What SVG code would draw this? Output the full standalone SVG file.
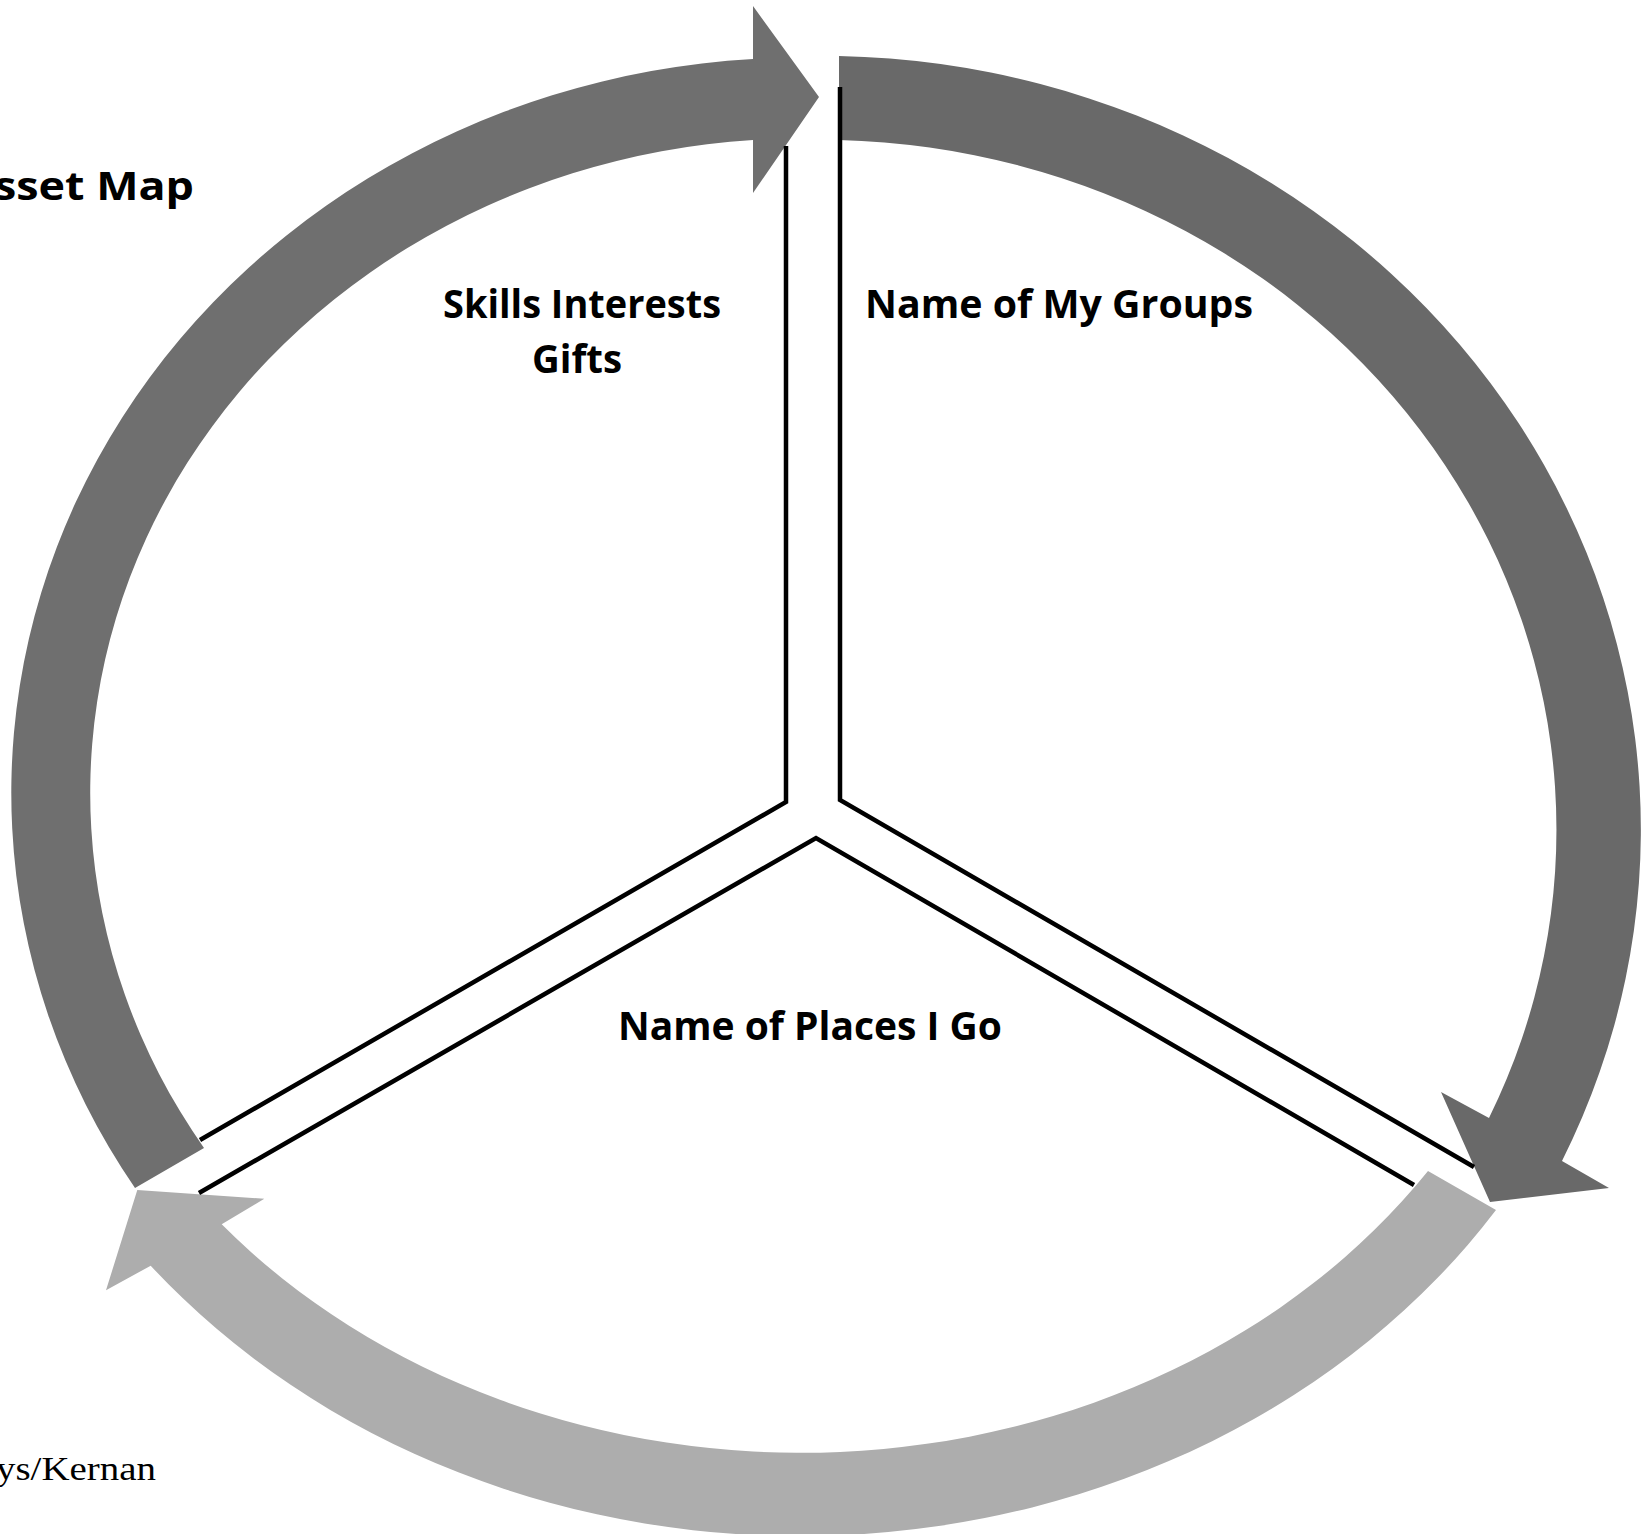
<svg xmlns="http://www.w3.org/2000/svg" width="1648" height="1534" viewBox="0 0 1648 1534">
<style>
.lbl{font-family:"Open Sans",Lato,"Liberation Sans",sans-serif;font-weight:bold;font-size:39px;fill:#000}
.div{fill:none;stroke:#000;stroke-width:4.5;stroke-linejoin:miter}
.serif{font-family:"Liberation Serif","DejaVu Serif",serif;font-size:33px;fill:#000}
</style>
<rect width="1648" height="1534" fill="#fff"/>
<g id="connectors">
  <path id="arrow-top-left" fill="#6F6F6F" d="M135,1188 A791,735.5 0 0 1 753,59 L753,6 L819,97 L753,193 L753,140 A711,654.4 0 0 0 204,1148 Z"/>
  <path id="arrow-right" fill="#696969" d="M839,56 A820,774 0 0 1 1562,1161 L1609,1188 L1490,1202 L1441,1092 L1489,1118 A737.6,690 0 0 0 839,140 Z"/>
  <path id="arrow-bottom" fill="#ADADAD" d="M1496,1210 A836,731 0 0 1 150.7,1265.7 L106,1290.3 L137.3,1190 L264.3,1198.7 L221.7,1224.3 A762,652.5 0 0 0 1428,1171 Z"/>
</g>
<g id="dividers">
  <polyline class="div" points="786,146 786,802 200,1140"/>
  <polyline class="div" points="840,87 840,800 1474,1167"/>
  <polyline class="div" points="199,1193 816,838 1414,1185"/>
</g>
<g id="title">
  <text class="lbl" x="194" y="200" text-anchor="end" textLength="200" lengthAdjust="spacingAndGlyphs">sset Map</text>
</g>
<g id="node-skills">
  <text class="lbl" x="443" y="318" textLength="278" lengthAdjust="spacingAndGlyphs">Skills Interests</text>
  <text class="lbl" x="532" y="373" textLength="90" lengthAdjust="spacingAndGlyphs">Gifts</text>
</g>
<g id="node-groups">
  <text class="lbl" x="865" y="318" textLength="388" lengthAdjust="spacingAndGlyphs">Name of My Groups</text>
</g>
<g id="node-places">
  <text class="lbl" x="618" y="1040" textLength="384" lengthAdjust="spacingAndGlyphs">Name of Places I Go</text>
</g>
<g id="credit">
  <text class="serif" x="-4" y="1480" textLength="160" lengthAdjust="spacingAndGlyphs">ys/Kernan</text>
</g>
</svg>
